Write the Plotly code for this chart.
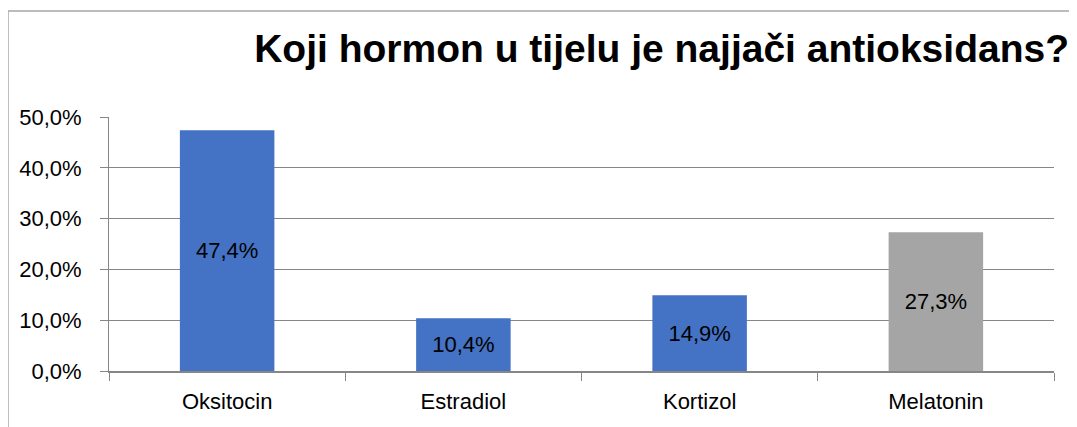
import plotly.graph_objects as go

categories = ["Oksitocin", "Estradiol", "Kortizol", "Melatonin"]
values = [0.474, 0.104, 0.149, 0.273]
colors = ["#4472C4", "#4472C4", "#4472C4", "#A5A5A5"]
y_ticks = [0, 0.1, 0.2, 0.3, 0.4, 0.5]
title_text = "Koji hormon u tijelu je najjači antioksidans?"

FONT = "Liberation Sans, Arial, sans-serif"

fig = go.Figure(go.Bar(
    x=categories, y=values,
    marker=dict(color=colors, line=dict(width=0)),
    width=0.4,
    texttemplate="%{y:.1%}",
    textposition="inside",
    insidetextanchor="middle",
    textangle=0,
    textfont=dict(family=FONT, size=22, color="#000000"),
    hoverinfo="skip",
))

fig.update_layout(
    width=1077, height=427,
    margin=dict(l=101, r=31, t=109, b=64),
    paper_bgcolor="white", plot_bgcolor="white",
    separators=", ",
    showlegend=False,
    font=dict(family=FONT, size=22, color="#000000"),
    title=dict(text="<b>" + title_text + "</b>", xref="container", x=1061/1077, xanchor="right",
               yref="container", y=1 - 40/427, yanchor="middle",
               font=dict(family=FONT, size=39, color="#000000")),
)

fig.update_xaxes(
    type="category", showgrid=False,
    showline=True, linecolor="#868686", linewidth=2,
    ticks="outside", tickson="boundaries", ticklen=8, tickcolor="#868686", tickwidth=1,
    ticklabelstandoff=10,
    tickfont=dict(family=FONT, size=22, color="#000000"),
)
fig.update_yaxes(
    range=[0, 0.5], tickvals=y_ticks, tickformat=".1%",
    showgrid=True, gridcolor="#868686", gridwidth=1,
    showline=True, linecolor="#868686", linewidth=1,
    ticks="outside", ticklen=8, tickcolor="#868686",
    ticklabelstandoff=14,
    tickfont=dict(family=FONT, size=22, color="#000000"),
    zeroline=False,
)

# chart outer border (left and top edges visible)
fig.add_shape(type="path", xref="paper", yref="paper",
              path="M -0.1069,-0.4 L -0.1069,1.417 L 1.2,1.417",
              line=dict(color="#A6A6A6", width=1.5), layer="above")

fig.write_html("out.html")
